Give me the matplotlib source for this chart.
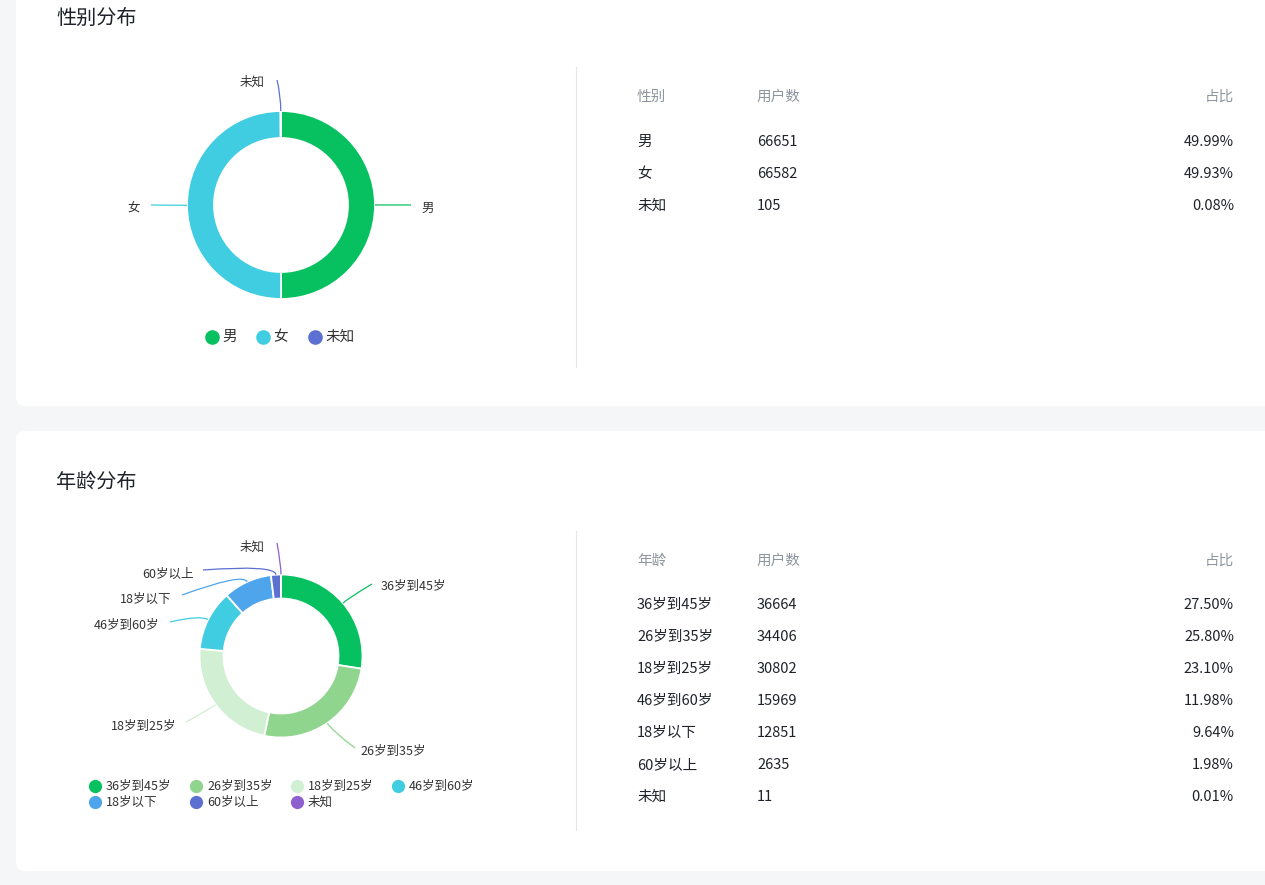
import matplotlib.pyplot as plt
import numpy as np
from matplotlib.patches import FancyBboxPatch
from matplotlib.path import Path
from matplotlib.patches import PathPatch

plt.rcParams['font.family'] = ['Noto Sans CJK SC', 'DejaVu Sans']

# data
gender_labels = ['男', '女', '未知']
gender_counts = [66651, 66582, 105]
gender_colors = ['#07c160', '#40cde1', '#5b70d0']

age_labels = ['36岁到45岁', '26岁到35岁', '18岁到25岁', '46岁到60岁', '18岁以下', '60岁以上', '未知']
age_counts = [36664, 34406, 30802, 15969, 12851, 2635, 11]
age_colors = ['#07c160', '#8fd58e', '#d1f0d3', '#40cde1', '#4fa5eb', '#5b70d0', '#8e5fcf']

W, H = 1265, 885
fig = plt.figure(figsize=(W / 100, H / 100), dpi=100)
fig.patch.set_facecolor('#f5f6f8')

bg = fig.add_axes([0, 0, 1, 1])
bg.set_xlim(0, W)
bg.set_ylim(H, 0)
bg.axis('off')

# cards
for top, bottom in [(-20, 406), (431, 871)]:
    bg.add_patch(FancyBboxPatch((16, top), 1300, bottom - top,
                                boxstyle='round,pad=0,rounding_size=9',
                                fc='white', ec='none'))

bg.text(56, 18, '性别分布', fontsize=14.5, color='#1f2329', va='center')
bg.text(56, 482, '年龄分布', fontsize=14.5, color='#1f2329', va='center')

# dividers
bg.plot([576, 576], [67, 367], color='#e5e6eb', lw=0.8)
bg.plot([576, 576], [531, 830], color='#e5e6eb', lw=0.8)


def draw_table(head, labels, counts, y0, y1, step):
    total = sum(counts)
    bg.text(637, y0, head, fontsize=10.5, color='#8f959e', va='center')
    bg.text(757, y0, '用户数', fontsize=10.5, color='#8f959e', va='center')
    bg.text(1234, y0, '占比', fontsize=10.5, color='#8f959e', va='center', ha='right')
    for i, (lab, c) in enumerate(zip(labels, counts)):
        y = y1 + i * step
        bg.text(637, y, lab, fontsize=10.5, color='#1f2329', va='center')
        bg.text(757, y, str(c), fontsize=10.5, color='#1f2329', va='center')
        bg.text(1234, y, f'{c / total * 100:.2f}%', fontsize=10.5, color='#1f2329',
                va='center', ha='right')


draw_table('性别', gender_labels, gender_counts, 97, 142, 32)
draw_table('年龄', age_labels, age_counts, 561, 605, 32)


def donut(cx, cy, R, r, counts, colors):
    h = 170
    ax = fig.add_axes([(cx - h) / W, (H - cy - h) / H, 2 * h / W, 2 * h / H])
    wedges, _ = ax.pie(counts, colors=colors, radius=R, startangle=90, counterclock=False,
                       wedgeprops=dict(width=R - r, edgecolor='white', linewidth=1.3))
    ax.set_xlim(-h, h)
    ax.set_ylim(-h, h)
    ax.axis('off')
    return ax, wedges


def leader(ax, w, R, l1, end, text_pos, label, ha, color, fs):
    mid = np.deg2rad((w.theta1 + w.theta2) / 2)
    d = np.array([np.cos(mid), np.sin(mid)])
    p0 = d * R
    p1 = d * (R + l1)
    path = Path([p0, p1, end], [Path.MOVETO, Path.CURVE3, Path.CURVE3])
    ax.add_patch(PathPatch(path, fc='none', ec=color, lw=0.9, clip_on=False))
    ax.text(text_pos[0], text_pos[1], label, ha=ha, va='center', fontsize=fs,
            color='#333333', clip_on=False)


# gender donut
gax, gw = donut(281, 205, 94, 67, gender_counts, gender_colors)
leader(gax, gw[0], 94, 10, (130, 0), (140, -3), '男', 'left', gender_colors[0], 9)
leader(gax, gw[1], 94, 10, (-130, 0), (-141, -3), '女', 'right', gender_colors[1], 9)
leader(gax, gw[2], 94, 16, (-4, 125), (-16, 123), '未知', 'right', gender_colors[2], 9)

# age donut
aax, aw = donut(281, 656, 81.5, 57.5, age_counts, age_colors)
age_ends = [(91, 72), (74, -92), (-95, -66), (-111, 34), (-99, 61), (-78, 86), (-4, 113)]
age_text = [(100, 70), (79, -95), (-105, -70), (-122, 31), (-110, 57), (-87, 82), (-16, 109)]
age_ha = ['left', 'left', 'right', 'right', 'right', 'right', 'right']
for w, e, t, ha, lab, col in zip(aw, age_ends, age_text, age_ha, age_labels, age_colors):
    leader(aax, w, 81.5, 10, e, t, lab, ha, col, 9)

# legends
for x, lab, col in zip([212, 263, 315], gender_labels, gender_colors):
    bg.plot(x, 337, 'o', ms=9.5, color=col)
    bg.text(x + 10, 337, lab, fontsize=10.5, color='#333333', va='center')

for i, (lab, col) in enumerate(zip(age_labels, age_colors)):
    x = 95 + (i % 4) * 101
    y = 786 + (i // 4) * 16
    bg.plot(x, y, 'o', ms=8.5, color=col)
    bg.text(x + 11, y, lab, fontsize=9, color='#333333', va='center')

fig.savefig('out.png', dpi=100, facecolor=fig.get_facecolor())
